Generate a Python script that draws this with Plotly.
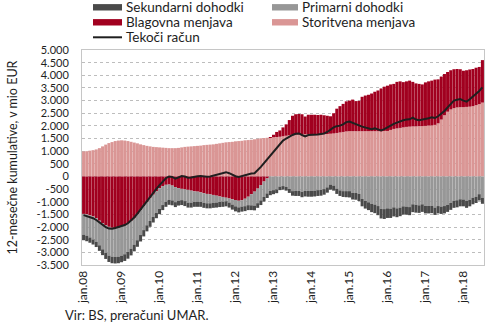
import plotly.graph_objects as go

# ---------------- data (mio EUR, 12-month cumulative) ----------------
mes = ['jan', 'feb', 'mar', 'apr', 'maj', 'jun', 'jul', 'avg', 'sep', 'okt', 'nov', 'dec']
months = [f"{m}.{y:02d}" for y in range(8, 19) for m in mes][:127]

xtick_text = ["jan.08", "jan.09", "jan.10", "jan.11", "jan.12", "jan.13",
              "jan.14", "jan.15", "jan.16", "jan.17", "jan.18"]
ytick_vals = [5000, 4500, 4000, 3500, 3000, 2500, 2000, 1500, 1000, 500, 0,
              -500, -1000, -1500, -2000, -2500, -3000, -3500]
ytick_text = ["5.000", "4.500", "4.000", "3.500", "3.000", "2.500", "2.000", "1.500",
              "1.000", "500", "0", "-500", "-1.000", "-1.500", "-2.000", "-2.500",
              "-3.000", "-3.500"]

storitvena = [
    990, 1000, 1020, 1040, 1070, 1120, 1190, 1260, 1320, 1360, 1400, 1420,
    1430, 1420, 1400, 1370, 1340, 1310, 1270, 1240, 1210, 1190, 1170, 1160,
    1150, 1140, 1130, 1120, 1120, 1120, 1130, 1150, 1170, 1180, 1190, 1200,
    1210, 1220, 1240, 1250, 1260, 1270, 1290, 1310, 1330, 1350, 1360, 1370,
    1390, 1400, 1410, 1430, 1440, 1450, 1470, 1490, 1510, 1520, 1530, 1540,
    1550, 1560, 1570, 1590, 1610, 1630, 1650, 1660, 1670, 1670, 1670, 1670,
    1670, 1670, 1670, 1670, 1675, 1680, 1690, 1700, 1720, 1740, 1760, 1780,
    1790, 1790, 1790, 1790, 1790, 1790, 1790, 1790, 1790, 1790, 1780, 1800,
    1800, 1840, 1880, 1900, 1920, 1940, 1960, 1970, 1980, 1980, 1990, 1990,
    2000, 2010, 2020, 2040, 2100, 2250, 2420, 2560, 2650, 2700, 2730, 2740,
    2740, 2750, 2760, 2780, 2820, 2860, 2920]

blagovna = [
    -1480, -1500, -1540, -1580, -1650, -1750, -1850, -1930, -1990, -2030, -2040, -2030,
    -1980, -1940, -1860, -1760, -1640, -1490, -1330, -1170, -1010, -860, -720, -590,
    -470, -380, -330, -320, -360, -420, -460, -490, -510, -530, -560, -590,
    -600, -630, -660, -690, -710, -730, -760, -790, -810, -840, -870, -900,
    -930, -960, -940, -880, -800, -700, -600, -480, -340, -200, -80, 20,
    100, 200, 250, 350, 450, 600, 750, 800, 800, 790, 700, 770,
    770, 770, 760, 770, 745, 720, 690, 800, 960, 1040, 1110, 1190,
    1210, 1250, 1190, 1200, 1360, 1410, 1440, 1490, 1560, 1610, 1700, 1750,
    1790, 1800, 1780, 1840, 1840, 1790, 1800, 1820, 1760, 1700, 1670, 1650,
    1720, 1750, 1770, 1790, 1740, 1700, 1630, 1570, 1550, 1540, 1520, 1500,
    1440, 1450, 1470, 1470, 1480, 1470, 1680]

primarni = [
    -820, -840, -870, -910, -930, -970, -1030, -1090, -1140, -1140, -1140, -1140,
    -1150, -1135, -1125, -1095, -1055, -1030, -985, -950, -920, -900, -880, -850,
    -815, -750, -675, -605, -585, -595, -495, -445, -465, -505, -475, -415,
    -405, -375, -385, -370, -350, -310, -270, -220, -190, -140, -160, -210,
    -250, -260, -250, -295, -335, -440, -550, -575, -605, -610, -590, -565,
    -540, -510, -400, -380, -410, -490, -580, -570, -570, -610, -570, -570,
    -570, -560, -540, -530, -500, -430, -320, -360, -480, -550, -580, -580,
    -580, -650, -650, -690, -890, -970, -1020, -1080, -1110, -1170, -1280, -1290,
    -1260, -1270, -1220, -1260, -1230, -1180, -1190, -1210, -1100, -1120, -1140, -1100,
    -1160, -1160, -1160, -1230, -1170, -1190, -1170, -1120, -1040, -960, -940, -900,
    -910, -970, -920, -840, -800, -700, -840]

sekundarni = [
    -220, -220, -210, -200, -210, -220, -230, -240, -250, -260, -260, -260,
    -260, -265, -265, -265, -265, -260, -255, -250, -240, -230, -220, -210,
    -205, -200, -195, -195, -195, -195, -195, -195, -195, -195, -195, -195,
    -195, -195, -195, -200, -200, -200, -200, -200, -200, -200, -200, -200,
    -200, -200, -200, -195, -195, -190, -190, -185, -185, -180, -180, -175,
    -160, -150, -140, -140, -150, -160, -180, -200, -200, -210, -220, -230,
    -230, -230, -230, -230, -220, -210, -200, -200, -210, -220, -230, -240,
    -250, -260, -270, -280, -290, -300, -310, -330, -340, -360, -380, -390,
    -380, -370, -360, -350, -340, -330, -320, -320, -310, -310, -300, -300,
    -300, -300, -290, -290, -290, -290, -290, -280, -280, -280, -280, -280,
    -270, -270, -260, -260, -250, -250, -240]

tekoci = [
    -1530, -1560, -1600, -1650, -1720, -1820, -1920, -2000, -2060, -2070, -2040, -2010,
    -1960, -1920, -1850, -1750, -1620, -1470, -1300, -1130, -960, -800, -650, -490,
    -340, -190, -70, 0, -20, -90, -20, 20, 0, -50, -40, 0,
    10, 20, 0, -10, 0, 30, 60, 100, 130, 170, 130, 60,
    10, -20, 20, 60, 110, 120, 130, 250, 380, 530, 680, 820,
    950, 1100, 1280, 1420, 1500, 1580, 1640, 1690, 1700, 1640, 1580, 1640,
    1640, 1650, 1660, 1680, 1700, 1760, 1860, 1940, 1990, 2010, 2060, 2150,
    2170, 2130, 2060, 2020, 1970, 1930, 1900, 1870, 1900, 1870, 1820, 1870,
    1950, 2000, 2080, 2130, 2190, 2220, 2250, 2260, 2330, 2250, 2220, 2240,
    2260, 2300, 2340, 2310, 2380, 2470, 2590, 2730, 2880, 3000, 3030, 3060,
    3000, 2960, 3050, 3150, 3250, 3380, 3520]

for arr in (storitvena, blagovna, primarni, sekundarni, tekoci):
    assert len(arr) == len(months)

# ---------------- styling ----------------
FONT = "Lato"
TXT = "#1e1e1e"
C_STOR = "#DA9695"
C_BLAG = "#A1001F"
C_PRIM = "#979797"
C_SEK = "#4A4A4A"
C_LINE = "#1f1f1f"

W, H = 490, 326
ML, MR, MT, MB = 82, 6, 50, 61
PW, PH = W - ML - MR, H - MT - MB


def px(x):  # pixel x -> paper
    return (x - ML) / PW


def py(y):  # pixel y -> paper
    return (H - MB - y) / PH


fig = go.Figure()

bar_specs = [("Storitvena menjava", storitvena, C_STOR),
             ("Blagovna menjava", blagovna, C_BLAG),
             ("Primarni dohodki", primarni, C_PRIM),
             ("Sekundarni dohodki", sekundarni, C_SEK)]
for name, vals, col in bar_specs:
    fig.add_trace(go.Bar(x=months, y=vals, name=name,
                         marker=dict(color=col, line=dict(width=0)), showlegend=False))

fig.add_trace(go.Scatter(x=months, y=tekoci, mode="lines", name="Tekoči račun",
                         line=dict(color=C_LINE, width=2), showlegend=False))

# ---------------- legend (drawn as swatches + labels, two columns) ----------------
legend_items = [
    ("Sekundarni dohodki", C_SEK, 93, 122, 124, 7.3, "box"),
    ("Blagovna menjava", C_BLAG, 93, 122, 124, 22.3, "box"),
    ("Tekoči račun", C_LINE, 93, 122, 124, 37.3, "line"),
    ("Primarni dohodki", C_PRIM, 272, 298, 300, 7.3, "box"),
    ("Storitvena menjava", C_STOR, 272, 298, 300, 22.3, "box"),
]
shapes = []
annotations = []
for name, col, x0, x1, xt, yc, kind in legend_items:
    if kind == "box":
        shapes.append(dict(type="rect", xref="paper", yref="paper",
                           x0=px(x0), x1=px(x1), y0=py(yc + 3.2), y1=py(yc - 3.2),
                           fillcolor=col, line=dict(width=0)))
    else:
        shapes.append(dict(type="line", xref="paper", yref="paper",
                           x0=px(x0), x1=px(x1), y0=py(yc), y1=py(yc),
                           line=dict(color=col, width=2)))
    annotations.append(dict(text=name, xref="paper", yref="paper", x=px(xt), y=py(yc),
                            xanchor="left", yanchor="middle", showarrow=False,
                            font=dict(size=13.5, family=FONT, color=TXT)))

annotations += [
    dict(text="12-mesečne kumulative, v mio EUR", xref="paper", yref="paper",
         x=px(12), y=0.5, xanchor="center", yanchor="middle", textangle=-90,
         showarrow=False, font=dict(size=12.5, family=FONT, color=TXT)),
    dict(text="Vir: BS, preračuni UMAR.", xref="paper", yref="paper",
         x=px(63), y=py(315), xanchor="left", yanchor="middle",
         showarrow=False, font=dict(size=13, family=FONT, color=TXT)),
]

fig.update_layout(
    width=W, height=H,
    margin=dict(l=ML, r=MR, t=MT, b=MB),
    paper_bgcolor="white", plot_bgcolor="white",
    barmode="relative", bargap=0.04,
    showlegend=False,
    font=dict(family=FONT, size=12, color=TXT),
    xaxis=dict(type="category", range=[-0.5, len(months) - 0.5],
               tickmode="array", tickvals=xtick_text, ticktext=xtick_text,
               tickangle=-90, showgrid=False, showline=True, linecolor="#c6c6c6",
               linewidth=1, mirror=True, ticks="",
               tickfont=dict(size=12, family=FONT, color=TXT)),
    yaxis=dict(range=[-3500, 5000], tickmode="array", tickvals=ytick_vals, ticktext=ytick_text,
               showgrid=True, gridcolor="#bdbdbd", griddash="dot", gridwidth=1,
               zeroline=False, showline=True, linecolor="#c6c6c6", linewidth=1, mirror=True,
               ticks="", ticklabelstandoff=10,
               tickfont=dict(size=11, family=FONT, color=TXT)),
    shapes=shapes,
    annotations=annotations,
)

fig.write_html("out.html")
